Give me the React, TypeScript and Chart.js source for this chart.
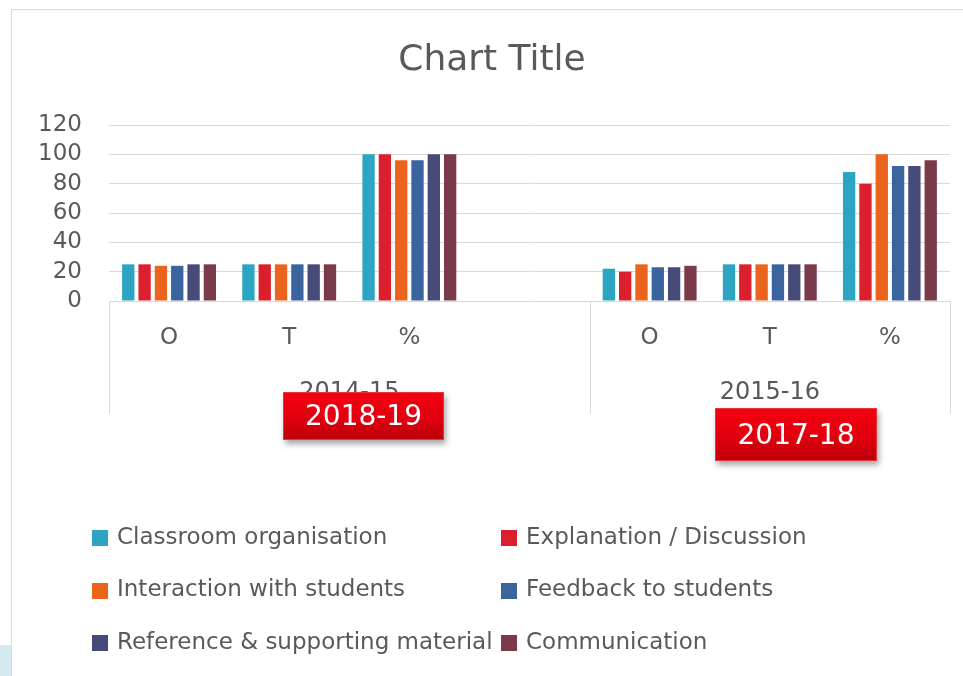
import React, { useEffect, useRef } from 'react';
import { Chart, registerables } from 'chart.js';

Chart.register(...registerables);

// ---------- data ----------
const TITLE = 'Chart Title';
const categories = ['O', 'T', '%', '', 'O', 'T', '%'];
const groupLabels = ['2014-15', '2015-16'];
const groupStarts = [0, 4];
const groupEnds = [3, 6];
const yTicks = [0, 20, 40, 60, 80, 100, 120];

const seriesNames = [
  'Classroom organisation',
  'Explanation / Discussion',
  'Interaction with students',
  'Feedback to students',
  'Reference & supporting material',
  'Communication',
];
const classroomOrganisation = [25, 25, 100, null, 22, 25, 88];
const explanationDiscussion = [25, 25, 100, null, 20, 25, 80];
const interactionWithStudents = [24, 25, 96, null, 25, 25, 100];
const feedbackToStudents = [24, 25, 96, null, 23, 25, 92];
const referenceMaterial = [25, 25, 100, null, 23, 25, 92];
const communication = [25, 25, 100, null, 24, 25, 96];
const seriesValues = [
  classroomOrganisation,
  explanationDiscussion,
  interactionWithStudents,
  feedbackToStudents,
  referenceMaterial,
  communication,
];
const seriesColors = ['#2ba5c1', '#dc1f2c', '#eb641e', '#3a649e', '#474b78', '#7b3a4a'];

const stickers = [
  { text: '2018-19', left: 283, top: 392, width: 161, height: 48 },
  { text: '2017-18', left: 715, top: 408, width: 162, height: 53 },
];

// ---------- styles ----------
const FONT = '"DejaVu Sans", sans-serif';
const TEXT = '#595959';
const LINE = '#d9d9d9';

const decorPlugin = {
  id: 'decor',
  afterDraw(chart: any) {
    const { ctx, chartArea: a, scales } = chart;
    const x = scales.x;
    const slot = (a.right - a.left) / categories.length;
    ctx.save();
    // title
    ctx.fillStyle = TEXT;
    ctx.font = `36px ${FONT}`;
    ctx.textAlign = 'center';
    ctx.textBaseline = 'alphabetic';
    ctx.fillText(TITLE, 492, 70);

    // category level labels
    ctx.font = `23px ${FONT}`;
    ctx.textBaseline = 'middle';
    categories.forEach((c, i) => {
      if (c) ctx.fillText(c, x.getPixelForValue(i), 338);
    });

    // group labels + separators
    ctx.font = `24px ${FONT}`;
    ctx.strokeStyle = LINE;
    ctx.lineWidth = 1;
    const edges: number[] = [];
    groupLabels.forEach((g, gi) => {
      const l = x.getPixelForValue(groupStarts[gi]) - slot / 2;
      const r = x.getPixelForValue(groupEnds[gi]) + slot / 2;
      edges.push(l, r);
      ctx.fillText(g, (l + r) / 2, 393);
    });
    const uniq = Array.from(new Set(edges.map((e) => Math.round(e))));
    uniq.forEach((e) => {
      ctx.beginPath();
      ctx.moveTo(e + 0.5, a.bottom);
      ctx.lineTo(e + 0.5, a.bottom + 113);
      ctx.stroke();
    });

    // legend
    ctx.font = `23px ${FONT}`;
    ctx.textAlign = 'left';
    const colX = [92, 501];
    chart.data.datasets.forEach((ds: any, i: number) => {
      const col = i % 2;
      const row = Math.floor(i / 2);
      const cy = 538 + row * 52.5;
      ctx.fillStyle = ds.backgroundColor;
      ctx.fillRect(colX[col], Math.round(cy - 8), 16, 16);
      ctx.fillStyle = TEXT;
      ctx.fillText(ds.label, colX[col] + 25, cy);
    });
    ctx.restore();
  },
};

export default function App() {
  const ref = useRef<HTMLCanvasElement>(null);
  useEffect(() => {
    if (!ref.current) return;
    const chart = new Chart(ref.current, {
      type: 'bar',
      data: {
        labels: categories,
        datasets: seriesNames.map((name, i) => ({
          label: name,
          data: seriesValues[i],
          backgroundColor: seriesColors[i],
          borderWidth: 0,
          categoryPercentage: 0.815,
          barPercentage: 0.755,
        })),
      },
      options: {
        responsive: false,
        animation: false,
        devicePixelRatio: 1,
        layout: { padding: { top: 125, right: 13, bottom: 0, left: 0 } },
        plugins: {
          legend: { display: false },
          title: { display: false },
          tooltip: { enabled: false },
        },
        scales: {
          x: {
            grid: { display: false },
            border: { display: false },
            ticks: { display: false },
            afterFit: (s: any) => {
              s.height = 375;
            },
          },
          y: {
            min: 0,
            max: 120,
            afterBuildTicks: (s: any) => {
              s.ticks = yTicks.map((v) => ({ value: v }));
            },
            grid: { color: LINE, lineWidth: 1, drawTicks: false },
            border: { display: false },
            ticks: {
              color: TEXT,
              font: { family: FONT, size: 23 },
              padding: 27,
              autoSkip: false,
            },
            afterFit: (s: any) => {
              s.width = 109;
            },
          },
        },
      },
      plugins: [decorPlugin],
    } as any);
    return () => chart.destroy();
  }, []);

  return (
    <div style={{ position: 'absolute', left: 0, top: 0, width: 963, height: 676, overflow: 'hidden', background: '#fff' }}>
      <div style={{ position: 'absolute', left: 0, top: 645, width: 11, height: 31, background: '#d6e9f0' }} />
      <div
        style={{
          position: 'absolute',
          left: 11,
          top: 9,
          width: 980,
          height: 700,
          border: '1px solid #d9d9d9',
          boxSizing: 'border-box',
        }}
      />
      <canvas ref={ref} width={963} height={676} style={{ position: 'absolute', left: 0, top: 0, width: 963, height: 676 }} />
      {stickers.map((s) => (
        <div
          key={s.text}
          style={{
            position: 'absolute',
            left: s.left,
            top: s.top,
            width: s.width,
            height: s.height,
            boxSizing: 'border-box',
            background: 'linear-gradient(to bottom, #f5000e 0%, #e20010 55%, #bd0008 100%)',
            border: '1px solid #e8343c',
            boxShadow: '2px 4px 6px rgba(0,0,0,0.35)',
            color: '#fff',
            fontFamily: FONT,
            fontSize: 28,
            lineHeight: `${s.height - 2}px`,
            textAlign: 'center',
          }}
        >
          {s.text}
        </div>
      ))}
    </div>
  );
}
